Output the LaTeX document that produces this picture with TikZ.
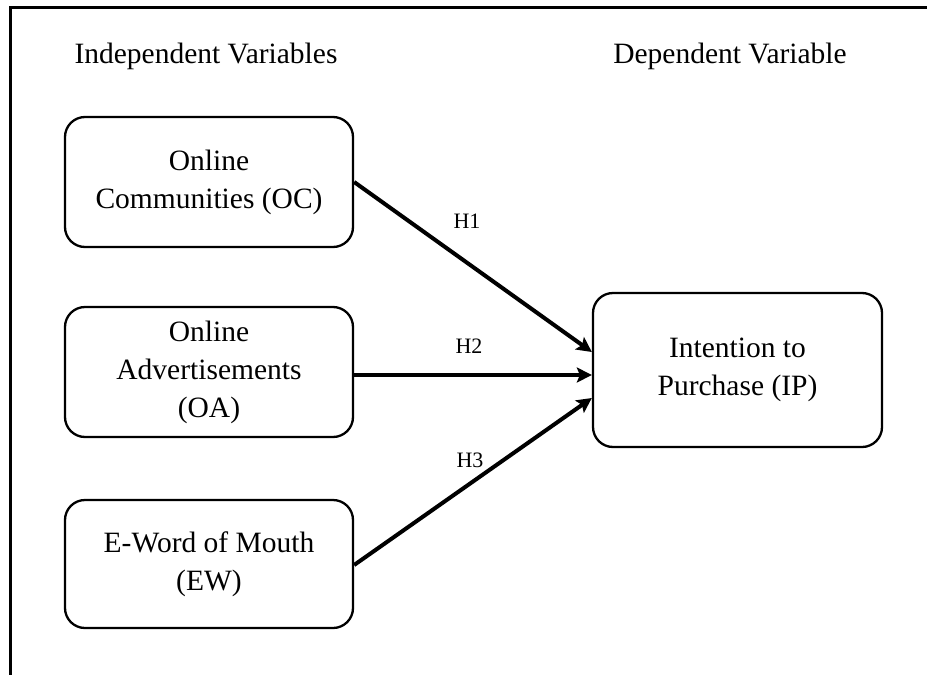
\documentclass[tikz,border=0pt]{standalone}
\usepackage{fontspec}
\setmainfont{Liberation Serif}
\usetikzlibrary{arrows.meta}
\tikzset{
  varbox/.style={draw, line width=2.3pt, rounded corners=20pt, align=center, inner sep=0pt,
    font=\fontsize{29.5}{38}\selectfont},
  heading/.style={anchor=base, font=\fontsize{29.5}{35}\selectfont},
  hlabel/.style={font=\fontsize{22}{26}\selectfont},
  link/.style={line width=4pt, -{Stealth[length=15pt,width=15pt,inset=3pt]}},
  framel/.style={line width=3pt}
}
\begin{document}
\begin{tikzpicture}[x=1pt,y=-1pt]
\useasboundingbox (0,0) rectangle (927,675);
\draw[framel] (10,676) -- (10,7) -- (928,7);
\node[heading] (hi) at (206,63) {Independent Variables};
\node[heading] (hd) at (730,63) {Dependent Variable};
\node[varbox, minimum width=288pt, minimum height=130pt] (oc) at (209,182) {Online\\Communities (OC)};
\node[varbox, minimum width=288pt, minimum height=130pt] (oa) at (209,372) {Online\\Advertisements\\(OA)};
\node[varbox, minimum width=288pt, minimum height=128pt] (ew) at (209,564) {E-Word of Mouth\\(EW)};
\node[varbox, minimum width=289pt, minimum height=154pt] (ip) at (737.5,370) {Intention to\\Purchase (IP)};
\coordinate (t1) at ([yshift=18pt]ip.west);
\coordinate (t2) at ([yshift=-5pt]ip.west);
\coordinate (t3) at ([yshift=-28pt]ip.west);
\coordinate (s3) at ([yshift=-1pt]ew.east);
\draw[link] (oc.east) -- (t1);
\draw[link] ([yshift=-3pt]oa.east) -- (t2);
\draw[link] (s3) -- (t3);
\node[hlabel] (h1) at (467,221) {H1};
\node[hlabel] (h2) at (469,346) {H2};
\node[hlabel] (h3) at (470,460) {H3};
\end{tikzpicture}
\end{document}
